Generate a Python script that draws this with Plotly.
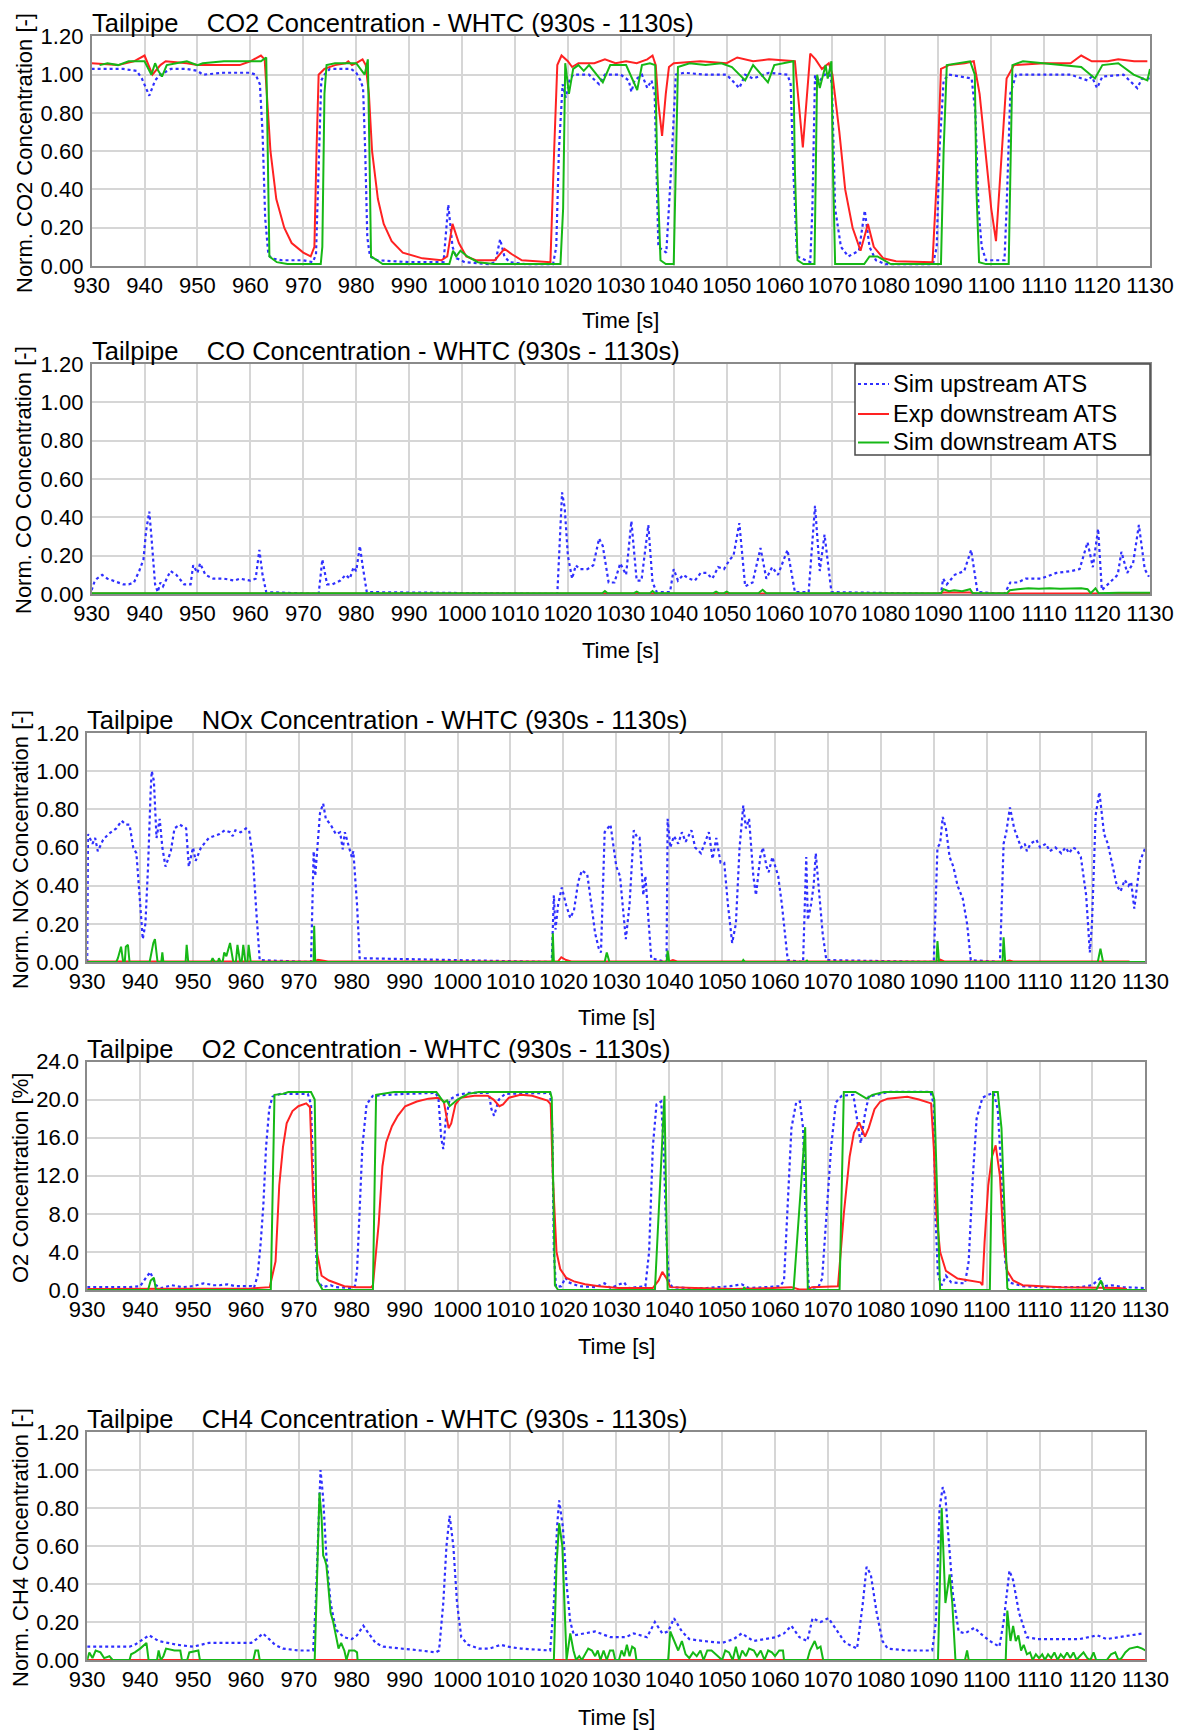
import plotly.graph_objects as go

# ---------------- data (time [s], value) ----------------
time_ticks = list(range(930, 1131, 10))

co2_up = [(930,1.03),(936,1.03),(938.5,1.02),(939.5,0.98),(940.9,0.89),(942,0.97),(943,1.0),(945,1.03),(948,1.03),(950,1.02),(951,1.0),(955,1.01),(960,1.01),(961,1.0),(961.8,0.95),(962.3,0.7),(962.8,0.25),(963.4,0.06),(964,0.04),(966,0.03),(970,0.03),(971.8,0.02),(972.4,0.06),(972.9,0.5),(973.4,0.97),(974,1.0),(975,1.03),(979,1.03),(980,1.01),(980.8,0.97),(981.3,0.93),(981.7,0.6),(982.1,0.15),(982.6,0.05),(984,0.03),(990,0.02),(996.5,0.02),(997.4,0.32),(998.2,0.1),(999,0.04),(1000.5,0.02),(1005,0.01),(1006.3,0.02),(1007.2,0.14),(1008,0.05),(1009,0.02),(1012,0.01),(1017.2,0.01),(1017.8,0.1),(1018.3,0.6),(1019,0.95),(1019.6,0.88),(1020.3,0.97),(1021,1.0),(1024,1.0),(1025.9,0.95),(1027,1.0),(1030,1.0),(1031.5,0.97),(1032,0.91),(1032.6,0.97),(1034,1.0),(1035,0.93),(1035.8,0.97),(1036.4,0.9),(1037.1,0.1),(1038.6,0.07),(1039.5,0.5),(1040.4,1.0),(1042,1.01),(1046,1.0),(1050,1.0),(1052.4,0.93),(1053.5,1.0),(1055,0.98),(1058,1.01),(1061.5,1.0),(1062.1,0.95),(1062.6,0.5),(1063.3,0.05),(1065.8,0.02),(1066.2,0.3),(1066.7,1.0),(1067.1,0.95),(1068.5,1.0),(1069.5,1.0),(1069.9,0.95),(1070.5,0.3),(1071.6,0.1),(1073,0.05),(1075,0.08),(1076.1,0.29),(1077,0.1),(1078.2,0.03),(1080,0.01),(1089,0.01),(1089.7,0.1),(1090.2,0.6),(1091,0.97),(1092,1.0),(1096.3,0.98),(1097,0.8),(1097.6,0.3),(1098.2,0.1),(1099,0.03),(1102.5,0.03),(1102.9,0.3),(1103.6,0.9),(1104.7,1.0),(1110,1.0),(1115,1.0),(1118.2,0.97),(1119,0.99),(1120,0.93),(1121,0.99),(1125,1.0),(1127.6,0.93),(1128.5,0.98),(1130,0.98)]
co2_exp = [(930,1.06),(935,1.05),(938,1.07),(940,1.1),(941.5,1.0),(943,1.05),(944,1.07),(948,1.06),(950,1.05),(958,1.05),(960,1.07),(962,1.1),(962.7,1.08),(963.1,0.9),(963.8,0.6),(964.9,0.35),(966.4,0.2),(967.8,0.12),(970,0.07),(971.4,0.05),(972.1,0.1),(972.5,0.6),(972.9,1.0),(974,1.03),(976,1.05),(978,1.06),(978.5,1.07),(979.2,1.05),(980,1.06),(981.2,1.08),(981.8,1.05),(982.4,0.9),(983,0.6),(984.1,0.35),(985.2,0.22),(986.7,0.13),(988.8,0.07),(992.5,0.04),(996.1,0.03),(997.2,0.05),(998.2,0.22),(999.4,0.12),(1000.8,0.05),(1002.6,0.03),(1006.2,0.03),(1008,0.09),(1009.5,0.06),(1011.3,0.03),(1016.7,0.02),(1017.4,0.6),(1018,1.05),(1018.8,1.1),(1020,1.07),(1020.8,1.04),(1022,1.06),(1025,1.06),(1027,1.08),(1029,1.06),(1031,1.07),(1033,1.06),(1035,1.08),(1036,1.1),(1036.6,1.05),(1037.1,0.85),(1037.8,0.68),(1038.5,0.9),(1039.1,1.04),(1040,1.06),(1045,1.07),(1050,1.06),(1052,1.09),(1055,1.07),(1058,1.08),(1062.9,1.07),(1063.5,0.9),(1064.4,0.62),(1065.2,0.9),(1065.8,1.11),(1066.8,1.08),(1068,1.03),(1069.3,1.06),(1070,1.0),(1071.3,0.7),(1072.4,0.4),(1073.8,0.2),(1075.3,0.08),(1076.7,0.22),(1077.8,0.1),(1079.6,0.04),(1082,0.025),(1088.9,0.02),(1089.8,0.5),(1090.5,1.03),(1092,1.05),(1095,1.06),(1096.7,1.07),(1097.8,0.9),(1098.9,0.6),(1100,0.3),(1100.9,0.13),(1101.8,0.5),(1102.9,0.98),(1104.3,1.05),(1110,1.06),(1115,1.06),(1117,1.1),(1119,1.07),(1122,1.07),(1124,1.08),(1127,1.07),(1129.5,1.07)]
co2_sim = [(931.5,1.05),(933,1.06),(935,1.05),(937,1.07),(940,1.07),(941.3,1.0),(942,1.06),(942.6,1.02),(943.3,0.99),(944.2,1.05),(946,1.06),(948,1.07),(950,1.05),(951,1.06),(955,1.07),(959,1.07),(962,1.07),(963,1.09),(963.3,0.5),(963.6,0.05),(965,0.02),(967,0.01),(973.3,0.01),(973.6,0.1),(974,0.9),(974.4,1.05),(976,1.06),(980,1.06),(981.6,1.0),(982.2,1.08),(982.5,0.6),(982.8,0.05),(985,0.01),(997.6,0.01),(998.3,0.08),(998.9,0.05),(999.7,0.08),(1001,0.05),(1003,0.02),(1006,0.01),(1018.6,0.01),(1019.1,0.3),(1019.5,1.06),(1020.2,0.9),(1021,1.03),(1022,1.05),(1023,1.02),(1024,1.05),(1026.6,0.96),(1028,1.05),(1031,1.05),(1033.1,0.92),(1034,1.05),(1035.5,1.06),(1036.5,1.05),(1036.9,0.5),(1037.5,0.03),(1038.5,0.01),(1040,0.01),(1040.4,0.6),(1040.8,1.04),(1043,1.06),(1046,1.05),(1049,1.06),(1051,1.04),(1053.5,0.97),(1055,1.05),(1057.8,0.96),(1059,1.05),(1062.6,1.07),(1062.9,0.5),(1063.4,0.03),(1064.5,0.01),(1066.6,0.01),(1066.9,0.6),(1067.1,1.0),(1067.6,0.93),(1068.7,1.05),(1069.1,0.98),(1069.8,1.07),(1070.1,0.5),(1070.5,0.01),(1076,0.01),(1077,0.05),(1078.5,0.05),(1081,0.01),(1090.5,0.01),(1091,0.6),(1091.6,1.05),(1094,1.06),(1096,1.07),(1096.9,1.0),(1097.2,0.4),(1097.7,0.02),(1099,0.01),(1103.3,0.01),(1103.7,0.6),(1104,1.05),(1106,1.07),(1110,1.06),(1114,1.05),(1117,1.04),(1119.6,0.98),(1121,1.05),(1124,1.06),(1126.9,1.0),(1129.5,0.97),(1130,1.03)]

co_up = [(930,0.02),(930.5,0.06),(931,0.08),(932,0.1),(933,0.08),(934,0.07),(935,0.06),(936,0.05),(937,0.05),(938,0.06),(939,0.12),(939.8,0.18),(940.3,0.33),(940.9,0.43),(941.3,0.3),(942,0.05),(942.5,0.01),(943,0.06),(943.5,0.04),(944.9,0.12),(946,0.1),(947.5,0.05),(948.7,0.05),(949.2,0.15),(950,0.11),(950.5,0.16),(951.5,0.1),(953,0.08),(955,0.08),(957,0.07),(958,0.08),(960,0.07),(961,0.08),(961.7,0.23),(962.3,0.1),(963,0.01),(972.9,0.0),(973.6,0.18),(974.5,0.05),(975.5,0.05),(977,0.07),(978,0.1),(978.8,0.08),(979.5,0.14),(980,0.12),(980.7,0.25),(981.2,0.15),(982,0.01),(1018,0.0),(1018.9,0.53),(1019.4,0.45),(1020,0.2),(1020.8,0.08),(1021.5,0.15),(1022.2,0.13),(1023.7,0.13),(1024.8,0.15),(1025.9,0.29),(1026.6,0.25),(1027.7,0.06),(1028.8,0.06),(1029.9,0.16),(1031,0.1),(1032,0.38),(1033,0.07),(1033.9,0.07),(1035.2,0.36),(1036,0.06),(1036.8,0.01),(1039.3,0.01),(1040,0.13),(1040.8,0.07),(1041.8,0.1),(1042.9,0.08),(1044,0.07),(1045.1,0.11),(1046.2,0.11),(1047.3,0.08),(1048.4,0.14),(1049.5,0.13),(1050.6,0.18),(1051.3,0.2),(1052.4,0.37),(1053.5,0.04),(1054.9,0.06),(1056.4,0.24),(1057.5,0.08),(1058.6,0.14),(1059.7,0.1),(1061.5,0.23),(1062.9,0.01),(1065.5,0.01),(1066.7,0.46),(1067.6,0.12),(1068.5,0.31),(1069.8,0.01),(1090.5,0.0),(1090.9,0.08),(1091.6,0.05),(1093.1,0.1),(1094.9,0.12),(1096.2,0.23),(1097.4,0.01),(1102.5,0.0),(1103.6,0.06),(1105,0.06),(1106.5,0.08),(1109.4,0.08),(1112.3,0.11),(1115.2,0.12),(1116.7,0.13),(1118.2,0.27),(1119.2,0.14),(1120.2,0.34),(1120.9,0.02),(1122.5,0.06),(1123.9,0.1),(1124.6,0.22),(1125.7,0.11),(1126.8,0.16),(1127.9,0.36),(1129,0.13),(1129.8,0.09)]
co_exp = [(930,0.003),(1090,0.003),(1091,0.008),(1096,0.008),(1097,0.003),(1103,0.003),(1104,0.006),(1119,0.006),(1120,0.003),(1130,0.003)]
co_sim = [(930,0.004),(1026.5,0.004),(1027,0.015),(1027.5,0.004),(1032.5,0.004),(1033,0.012),(1033.5,0.004),(1035.5,0.004),(1036,0.015),(1036.5,0.004),(1047.5,0.004),(1048,0.012),(1048.5,0.004),(1049.5,0.004),(1050,0.012),(1050.5,0.004),(1056,0.004),(1056.8,0.022),(1057.5,0.004),(1090.5,0.004),(1091,0.025),(1092,0.015),(1093,0.02),(1094.5,0.015),(1096,0.025),(1096.5,0.004),(1103,0.004),(1103.5,0.02),(1105,0.025),(1107,0.03),(1109,0.028),(1111,0.03),(1113,0.027),(1115,0.028),(1117,0.03),(1118.2,0.025),(1118.8,0.004),(1119.7,0.03),(1120.3,0.004),(1124,0.006),(1130,0.006)]

nox_up = [(930,0.0),(930.15,0.67),(931,0.62),(931.5,0.65),(932,0.58),(933,0.64),(934,0.67),(935.5,0.7),(936.5,0.74),(937.3,0.72),(938,0.72),(938.7,0.6),(939.3,0.57),(940,0.3),(940.5,0.12),(941,0.2),(941.5,0.5),(942,0.9),(942.2,1.0),(942.6,0.95),(943.1,0.65),(943.7,0.75),(944.2,0.6),(944.8,0.5),(945.8,0.58),(946.5,0.7),(947.5,0.72),(948.7,0.7),(949.2,0.5),(950,0.6),(950.5,0.53),(951.5,0.6),(953,0.65),(954,0.66),(955,0.67),(956,0.69),(957,0.68),(957.5,0.66),(958,0.69),(959,0.68),(960,0.7),(960.6,0.69),(961.3,0.55),(962,0.25),(962.6,0.01),(972.3,0.0),(972.8,0.58),(973.1,0.45),(973.5,0.6),(974,0.78),(974.6,0.83),(975.1,0.75),(976,0.72),(977,0.67),(977.8,0.68),(978.3,0.59),(978.7,0.68),(979.5,0.6),(980,0.55),(980.3,0.58),(981,0.3),(981.5,0.02),(1017.8,0.0),(1018.2,0.35),(1018.5,0.17),(1019,0.3),(1019.7,0.39),(1020.5,0.3),(1021.3,0.23),(1022,0.27),(1022.8,0.42),(1023.5,0.48),(1024.5,0.46),(1025.3,0.3),(1026,0.15),(1026.7,0.07),(1027.1,0.05),(1027.8,0.68),(1028.9,0.72),(1030,0.5),(1030.7,0.45),(1031.8,0.12),(1032.5,0.3),(1033.3,0.69),(1034,0.65),(1034.4,0.65),(1035.1,0.35),(1035.5,0.45),(1036.6,0.02),(1039.5,0.0),(1039.7,0.75),(1040.2,0.6),(1040.9,0.66),(1041.7,0.62),(1042.4,0.68),(1043.1,0.63),(1044.2,0.69),(1044.9,0.6),(1046,0.57),(1046.8,0.63),(1047.5,0.68),(1048.2,0.54),(1048.9,0.65),(1049.7,0.52),(1050.4,0.52),(1051.1,0.3),(1051.9,0.1),(1052.6,0.2),(1053.3,0.6),(1054,0.82),(1054.5,0.7),(1055.1,0.75),(1055.9,0.45),(1056.4,0.35),(1057.2,0.55),(1057.7,0.6),(1058.4,0.5),(1058.8,0.47),(1059.5,0.55),(1060.6,0.45),(1061.3,0.3),(1062.4,0.01),(1065.3,0.0),(1065.9,0.55),(1066.2,0.22),(1066.8,0.3),(1067.3,0.4),(1067.7,0.57),(1068.2,0.4),(1069,0.15),(1069.7,0.01),(1090,0.0),(1090.7,0.6),(1091.2,0.62),(1091.7,0.76),(1092.3,0.7),(1093,0.55),(1093.7,0.5),(1094.5,0.4),(1095.5,0.33),(1096.3,0.2),(1097,0.01),(1102.5,0.0),(1103.2,0.62),(1103.7,0.68),(1104.4,0.81),(1105.2,0.7),(1105.9,0.65),(1106.5,0.6),(1107.2,0.62),(1107.6,0.58),(1108.3,0.62),(1109.4,0.64),(1110.1,0.6),(1111.2,0.62),(1111.9,0.58),(1113,0.6),(1114.1,0.57),(1114.9,0.6),(1115.6,0.57),(1116.3,0.6),(1117,0.59),(1117.8,0.55),(1118.8,0.35),(1119.5,0.05),(1119.9,0.2),(1120.6,0.77),(1121.3,0.89),(1122.2,0.67),(1122.9,0.62),(1123.8,0.51),(1124.6,0.4),(1125.3,0.37),(1126.1,0.43),(1126.8,0.4),(1127.3,0.42),(1127.9,0.28),(1129,0.53),(1130,0.6)]
nox_exp = [(930,0.003),(973,0.003),(973.6,0.012),(974.5,0.006),(975.5,0.003),(1019,0.003),(1019.6,0.025),(1020.5,0.01),(1021.5,0.003),(1040,0.003),(1040.7,0.01),(1041.5,0.003),(1090.5,0.003),(1091.2,0.012),(1092,0.003),(1103.5,0.003),(1104.3,0.008),(1105,0.003),(1127,0.003)]
nox_sim = [(930,0.0),(935.5,0.0),(935.8,0.02),(936.4,0.08),(936.8,0.0),(937.1,0.0),(937.3,0.08),(937.7,0.09),(938,0.0),(941.8,0.0),(942.5,0.1),(942.8,0.12),(943.3,0.0),(944,0.0),(944.2,0.05),(944.4,0.0),(948.6,0.0),(948.8,0.09),(949.1,0.0),(953.4,0.0),(953.7,0.02),(954.1,0.0),(954.7,0.0),(954.9,0.02),(955.2,0.0),(955.6,0.0),(955.9,0.05),(956.3,0.03),(957,0.1),(957.6,0.0),(958.1,0.0),(958.4,0.09),(958.9,0.0),(959.2,0.0),(959.5,0.09),(959.9,0.0),(960.3,0.0),(960.5,0.09),(960.9,0.0),(972.8,0.0),(972.9,0.19),(973.1,0.0),(1017.9,0.0),(1018.0,0.15),(1018.2,0.0),(1027.8,0.0),(1028.2,0.05),(1028.7,0.0),(1039.5,0.0),(1039.7,0.06),(1040,0.0),(1053.8,0.0),(1054,0.01),(1054.3,0.0),(1065.9,0.0),(1066,0.01),(1066.2,0.0),(1090.5,0.0),(1090.7,0.11),(1091,0.0),(1103,0.0),(1103.2,0.13),(1103.5,0.0),(1121,0.0),(1121.5,0.07),(1122,0.0),(1130,0.0)]

o2_up = [(930,0.3),(938,0.3),(940,0.4),(941.9,1.9),(943,0.5),(944,0.2),(946,0.5),(948,0.3),(950,0.4),(952,0.7),(954,0.5),(955,0.5),(956.5,0.6),(958,0.4),(961,0.4),(961.5,0.2),(962.2,1.5),(962.8,5),(963.3,9),(963.8,15),(964.4,19),(965,20.3),(966.5,20.6),(971.7,20.6),(972.3,19.5),(972.8,10),(973.5,1.0),(974.5,0.3),(976,0.5),(977,0.3),(980,0.2),(980.6,0.4),(981,2),(981.5,8),(982,15),(982.8,19.5),(984,20.4),(990,20.6),(995.9,20.7),(996.4,20),(996.9,16),(997.3,14.8),(997.8,18),(998.5,20),(1000,20.5),(1002,20.7),(1005.9,20.7),(1006.4,19),(1006.9,18.3),(1007.8,20),(1009,20.6),(1017.5,20.7),(1017.9,17),(1018.2,4),(1018.6,0.3),(1019.6,0.4),(1020.4,1.3),(1021,0.8),(1023,0.4),(1026,0.3),(1027.8,0.7),(1028.9,0.2),(1031.5,0.8),(1032.2,0.2),(1034.7,0.3),(1035.5,0.4),(1036.2,4),(1036.9,15),(1037.6,19.5),(1038.5,19.8),(1039,14),(1039.5,5),(1040,0.8),(1040.6,0.3),(1043.5,0.2),(1047.1,0.2),(1051.5,0.4),(1053.7,0.6),(1055.1,0.2),(1059.5,0.3),(1061,0.4),(1061.7,1.0),(1062.4,9),(1063.1,17),(1064,19.7),(1064.7,19.8),(1065.3,17),(1065.9,5),(1066.4,0.2),(1068.2,0.3),(1068.9,1.2),(1069.7,8),(1070.6,15),(1071.5,19.7),(1072.6,20.4),(1074.8,20.5),(1075.5,18),(1076.2,15.4),(1077,18.5),(1077.7,20.3),(1079.2,20.5),(1081.3,20.8),(1089.4,20.8),(1090,19.5),(1090.3,8),(1090.8,1.5),(1091.5,0.5),(1092.3,1.5),(1093.3,0.8),(1095.9,0.7),(1096.6,3),(1097.4,12),(1098.1,18),(1099.2,20.2),(1100.3,20.5),(1101.3,20.7),(1102.1,19),(1102.8,12),(1103.5,3),(1104.2,0.8),(1106.8,0.4),(1110.5,0.3),(1117.8,0.3),(1119.9,0.5),(1121.4,1.2),(1122.1,0.4),(1123.6,0.5),(1125.8,0.3),(1130,0.2)]
o2_exp = [(930,0.1),(961,0.15),(964.5,0.3),(965.6,3),(966.3,11),(967,15),(967.7,17.5),(968.8,18.8),(969.9,19.3),(971.4,19.6),(972.1,19.2),(972.7,10),(973.4,4),(974.3,1.5),(975.7,1.0),(977.1,0.7),(978.6,0.4),(980.8,0.3),(983.7,0.3),(984,0.5),(985.1,7),(985.8,13),(986.5,15.5),(987.6,17.2),(988.7,18.3),(990.1,19.3),(992.3,19.8),(994.5,20.1),(996.3,20.2),(997.4,19.8),(998.3,17),(998.8,17.5),(999.6,19.5),(1000.6,20.2),(1003.2,20.4),(1005.7,20.4),(1006.8,20),(1007.9,19.3),(1008.6,19.5),(1009.7,20.2),(1011.9,20.5),(1014.1,20.4),(1017,19.9),(1017.6,19.5),(1018,12),(1018.7,4),(1019.4,2.2),(1020.5,1.3),(1022,0.9),(1024.1,0.6),(1026.7,0.4),(1030.4,0.2),(1036.9,0.2),(1038,1.0),(1038.7,1.9),(1039.5,1.2),(1040.2,0.3),(1044.9,0.2),(1052.2,0.1),(1059.5,0.2),(1063.1,0.3),(1064.6,0.05),(1066.1,0.05),(1067,0.3),(1071.9,0.4),(1073,8),(1074.1,14),(1074.9,16.5),(1075.9,17.6),(1077,16.1),(1077.7,17),(1078.8,19),(1079.9,19.8),(1081.3,20.1),(1085,20.3),(1087.2,20),(1089.5,19.6),(1090,15),(1090.5,8),(1091.2,4),(1092.3,2),(1094.5,1.2),(1098.8,0.8),(1099.2,0.5),(1099.6,5),(1100.3,11),(1101,14),(1101.7,15.2),(1102.5,12),(1103.2,5),(1103.9,2),(1105,1.0),(1106.8,0.5),(1114.1,0.3),(1125,0.2),(1126.5,0.1)]
o2_sim = [(930,0.0),(941.5,0.0),(942,1.0),(942.6,1.3),(943,0.0),(964.7,0.0),(965.4,20.5),(967,20.6),(968,20.8),(972.3,20.8),(973,20.0),(973.5,1.0),(974.5,0.0),(984,0.0),(984.6,20.5),(986,20.6),(988,20.8),(996,20.8),(997.4,19.7),(998,19.9),(998.5,19.3),(1000,20.0),(1002,20.6),(1004,20.8),(1017.5,20.8),(1017.8,20.2),(1018.4,0.5),(1019,0.0),(1037.3,0.0),(1039.1,20.4),(1039.7,0.0),(1054,0.0),(1054.2,0.3),(1054.4,0.0),(1063.5,0.0),(1065.7,17.1),(1066.2,0.0),(1072.2,0.0),(1073,20.8),(1075.2,20.8),(1077.3,20.1),(1078.4,20.5),(1080.6,20.8),(1089.7,20.8),(1090.1,20.0),(1091.2,0.0),(1100.6,0.0),(1101.2,20.8),(1102.1,20.8),(1102.8,17),(1103.9,0.2),(1104.2,0.0),(1120.7,0.0),(1121.6,1.0),(1122.2,0.0),(1130,0.0)]

ch4_up = [(930,0.07),(938,0.07),(939,0.08),(940.5,0.11),(941.7,0.13),(943.5,0.1),(945,0.09),(947,0.08),(950,0.07),(951.5,0.08),(953,0.09),(958,0.09),(961,0.09),(962,0.11),(963.2,0.14),(964,0.12),(965.5,0.08),(967,0.06),(970,0.05),(972.7,0.05),(973.2,0.3),(973.7,0.7),(974.1,1.0),(974.6,0.85),(975.2,0.55),(976,0.3),(977,0.16),(978.5,0.12),(980,0.11),(981,0.13),(982.2,0.18),(983.2,0.14),(984.5,0.09),(986,0.07),(990,0.06),(993,0.05),(995.9,0.04),(996.5,0.05),(997.3,0.3),(997.9,0.6),(998.5,0.76),(999.2,0.6),(999.9,0.3),(1000.7,0.12),(1002,0.08),(1004,0.06),(1006,0.06),(1008.2,0.08),(1009.5,0.07),(1012,0.06),(1017.5,0.05),(1018.2,0.3),(1018.8,0.7),(1019.2,0.84),(1019.9,0.7),(1020.6,0.4),(1021.3,0.2),(1022,0.13),(1024,0.14),(1026,0.15),(1028.9,0.12),(1031.8,0.12),(1033.3,0.14),(1035.8,0.12),(1037.3,0.2),(1038.7,0.14),(1039.8,0.15),(1040.9,0.22),(1042.4,0.15),(1043.8,0.11),(1046.4,0.1),(1050,0.09),(1052.2,0.11),(1053.7,0.14),(1055.9,0.1),(1058,0.11),(1060.2,0.12),(1061.7,0.14),(1063.1,0.18),(1064.6,0.12),(1066.1,0.1),(1067.1,0.22),(1068.6,0.2),(1070.1,0.22),(1071.5,0.16),(1073.3,0.09),(1075.5,0.06),(1076.6,0.3),(1077.3,0.49),(1078.1,0.45),(1079.2,0.25),(1080.3,0.1),(1081.3,0.06),(1085,0.05),(1089.7,0.05),(1090.4,0.2),(1091.1,0.8),(1091.7,0.91),(1092.2,0.86),(1092.9,0.6),(1093.6,0.35),(1094.7,0.15),(1095.9,0.14),(1097.7,0.17),(1098.8,0.14),(1100.6,0.1),(1102.4,0.07),(1103.2,0.2),(1104.3,0.47),(1105,0.42),(1106.1,0.25),(1107.6,0.12),(1109.7,0.11),(1114,0.11),(1117.6,0.11),(1120.9,0.13),(1122.7,0.11),(1124.9,0.12),(1127.8,0.13),(1129.6,0.14)]
ch4_exp = [(930,0.0),(1130,0.0)]
ch4_sim = [(930,0.0),(930.4,0.04),(931,0.01),(931.6,0.05),(932.5,0.04),(933.2,0.01),(934.2,0.02),(934.8,0.0),(938,0.0),(938.3,0.03),(939,0.04),(940,0.06),(941.2,0.09),(941.6,0.0),(943.2,0.0),(943.5,0.05),(943.9,0.0),(944.4,0.02),(944.9,0.06),(946.5,0.05),(947.6,0.05),(947.9,0.0),(948.9,0.0),(949.3,0.04),(951,0.05),(951.3,0.0),(961.4,0.0),(961.8,0.05),(962.3,0.05),(962.6,0.0),(973,0.0),(973.4,0.4),(973.9,0.88),(974.3,0.75),(974.6,0.55),(974.9,0.53),(975.2,0.5),(975.6,0.38),(976,0.25),(976.5,0.2),(977,0.12),(977.5,0.06),(978,0.09),(978.6,0.05),(979,0.0),(979.5,0.05),(980.5,0.05),(981,0.04),(981.1,0.0),(1018.2,0.0),(1018.7,0.5),(1019.2,0.72),(1019.8,0.6),(1020.3,0.2),(1020.6,0.0),(1021.3,0.14),(1021.9,0.05),(1022.4,0.0),(1023,0.02),(1023.5,0.0),(1024.1,0.03),(1024.7,0.06),(1025.4,0.05),(1026,0.02),(1026.5,0.05),(1027,0.0),(1027.6,0.05),(1028.2,0.0),(1028.8,0.05),(1029.4,0.05),(1029.8,0.0),(1030.5,0.0),(1031,0.05),(1031.5,0.02),(1032,0.08),(1032.5,0.02),(1033,0.07),(1033.5,0.06),(1033.8,0.0),(1039.8,0.0),(1040.2,0.15),(1040.9,0.1),(1041.7,0.05),(1042.4,0.1),(1043.1,0.03),(1043.8,0.01),(1044.5,0.04),(1045.2,0.02),(1045.9,0.05),(1046.5,0.0),(1047.2,0.05),(1048,0.05),(1048.8,0.03),(1049.5,0.01),(1050,0.0),(1050.6,0.05),(1051.3,0.04),(1052,0.0),(1052.6,0.07),(1053.2,0.0),(1053.8,0.05),(1054.5,0.02),(1055.1,0.06),(1056,0.05),(1056.6,0.02),(1057.3,0.05),(1058,0.0),(1058.7,0.05),(1059.4,0.04),(1060,0.02),(1060.8,0.05),(1061.5,0.05),(1061.7,0.0),(1066.1,0.0),(1066.6,0.05),(1067.5,0.1),(1068,0.06),(1068.6,0.07),(1069.1,0.0),(1090.8,0.0),(1091.5,0.8),(1092.2,0.3),(1093,0.45),(1093.5,0.3),(1094.1,0.0),(1095.9,0.0),(1096.3,0.05),(1096.6,0.0),(1103.6,0.0),(1103.9,0.26),(1104.5,0.1),(1105,0.18),(1105.5,0.1),(1106,0.13),(1106.5,0.05),(1107,0.08),(1107.6,0.03),(1108.2,0.04),(1108.7,0.0),(1109.3,0.03),(1109.9,0.01),(1110.5,0.03),(1111,0.0),(1111.6,0.03),(1112.2,0.01),(1112.8,0.04),(1113.4,0.0),(1114,0.03),(1114.6,0.01),(1115.2,0.04),(1115.8,0.01),(1116.4,0.04),(1117,0.0),(1117.6,0.02),(1118.3,0.04),(1119,0.01),(1119.6,0.0),(1120.2,0.04),(1120.7,0.0),(1122.7,0.0),(1123.5,0.03),(1124.3,0.04),(1124.9,0.0),(1125.5,0.01),(1126.2,0.04),(1127,0.06),(1128.5,0.07),(1129.4,0.06),(1130,0.05)]

series_names = ["Sim upstream ATS", "Exp downstream ATS", "Sim downstream ATS"]
panel_titles = ["CO2 Concentration - WHTC (930s - 1130s)",
                "CO Concentration - WHTC (930s - 1130s)",
                "NOx Concentration - WHTC (930s - 1130s)",
                "O2 Concentration - WHTC (930s - 1130s)",
                "CH4 Concentration - WHTC (930s - 1130s)"]
y_titles = ["Norm. CO2 Concentration [-]", "Norm. CO Concentration [-]",
            "Norm. NOx Concentration [-]", "O2 Concentration [%]",
            "Norm. CH4 Concentration [-]"]
y_ticks_norm = [0.0, 0.2, 0.4, 0.6, 0.8, 1.0, 1.2]
y_ticks_o2 = [0.0, 4.0, 8.0, 12.0, 16.0, 20.0, 24.0]
panel_data = [(co2_up, co2_exp, co2_sim), (co_up, co_exp, co_sim),
              (nox_up, nox_exp, nox_sim), (o2_up, o2_exp, o2_sim),
              (ch4_up, ch4_exp, ch4_sim)]

# ---------------- layout geometry (page pixels) ----------------
PAGE_W, PAGE_H = 1184, 1731
OFF = 8  # default page margin around the figure div
W, H = PAGE_W - OFF, PAGE_H - OFF
geom = [  # left, right, top, bottom
    (91.6, 1150.0, 36.4, 266.0),
    (91.6, 1150.0, 364.0, 594.0),
    (87.2, 1145.4, 733.0, 962.0),
    (87.2, 1145.4, 1061.5, 1290.0),
    (87.2, 1145.4, 1432.0, 1660.0),
]
time_label_y = [321, 650, 1017, 1346, 1717]
ytitle_pos = [(24, 153), (24, 480), (20, 850), (20, 1178), (20, 1548)]
legend_box = (855, 1150, 364, 455)
legend_rows = [384, 414, 442.5]
legend_line_x = (858, 889)
legend_text_x = 891

colors = ["#2f2fff", "#ff2222", "#16b816"]
dashes = ["dot", "solid", "solid"]
FONT = "Arial, 'Liberation Sans', sans-serif"

def px_x(v):
    return (v - OFF) / W

def px_y(v):
    return 1 - (v - OFF) / H

fig = go.Figure()
layout = dict(width=W, height=H, margin=dict(l=0, r=0, t=0, b=0, autoexpand=False),
              template="none",
              paper_bgcolor="white", plot_bgcolor="white",
              font=dict(family=FONT, size=22, color="black"),
              showlegend=False, annotations=[], shapes=[])

for i, (l, r, t, b) in enumerate(geom):
    sfx = "" if i == 0 else str(i + 1)
    xref, yref = "x" + sfx, "y" + sfx
    for k in range(3):
        pts = panel_data[i][k]
        fig.add_trace(go.Scatter(
            x=[p[0] for p in pts], y=[p[1] for p in pts], mode="lines",
            name=series_names[k], xaxis=xref, yaxis=yref,
            line=dict(color=colors[k], width=2 if k else 2.2, dash=dashes[k]),
            hoverinfo="skip"))
    is_o2 = (i == 3)
    yt = y_ticks_o2 if is_o2 else y_ticks_norm
    layout["xaxis" + sfx] = dict(
        domain=[px_x(l), px_x(r)], anchor=yref, range=[930, 1130], automargin=False,
        tickvals=time_ticks, ticktext=[str(v) for v in time_ticks], tickangle=0,
        showgrid=True, gridcolor="#d6d6d6", gridwidth=1.5, zeroline=False,
        showline=True, linecolor="#8a8a8a", linewidth=1.5, mirror=True,
        ticks="", tickfont=dict(size=22, color="black"), ticklabelstandoff=-1)
    layout["yaxis" + sfx] = dict(
        domain=[px_y(b), px_y(t)], anchor=xref, range=[yt[0], yt[-1]], automargin=False,
        tickvals=yt, ticktext=[("%.1f" if is_o2 else "%.2f") % v for v in yt],
        showgrid=True, gridcolor="#d6d6d6", gridwidth=1.5, zeroline=False,
        showline=True, linecolor="#8a8a8a", linewidth=1.5, mirror=True,
        ticks="", tickfont=dict(size=22, color="black"), ticklabelstandoff=2)
    if i < 3:
        layout["shapes"].append(dict(type="line", xref=xref + " domain", yref=yref,
                                     x0=0, x1=1, y0=1.0, y1=1.0,
                                     line=dict(color="#a0a0a0", width=1.5), layer="below"))
    layout["annotations"].append(dict(
        text="Tailpipe&nbsp;&nbsp;&nbsp; " + panel_titles[i],
        xref="paper", yref="paper", x=px_x(l - 2), y=px_y(t - 13),
        xanchor="left", yanchor="middle", showarrow=False, font=dict(size=25.5)))
    layout["annotations"].append(dict(
        text="Time [s]", xref="paper", yref="paper",
        x=px_x((l + r) / 2), y=px_y(time_label_y[i]),
        xanchor="center", yanchor="middle", showarrow=False, font=dict(size=22)))
    layout["annotations"].append(dict(
        text=y_titles[i], xref="paper", yref="paper",
        x=px_x(ytitle_pos[i][0]), y=px_y(ytitle_pos[i][1]), textangle=-90,
        xanchor="center", yanchor="middle", showarrow=False, font=dict(size=22)))

# legend (inside the CO panel), drawn as a framed box with sample lines and labels
bx0, bx1, by0, by1 = legend_box
layout["shapes"].append(dict(type="rect", xref="paper", yref="paper",
                             x0=px_x(bx0), x1=px_x(bx1), y0=px_y(by1), y1=px_y(by0),
                             fillcolor="white", line=dict(color="#4a4a4a", width=1.5),
                             layer="above"))
for k in range(3):
    layout["shapes"].append(dict(type="line", xref="paper", yref="paper",
                                 x0=px_x(legend_line_x[0]), x1=px_x(legend_line_x[1]),
                                 y0=px_y(legend_rows[k]), y1=px_y(legend_rows[k]),
                                 line=dict(color=colors[k], width=2.2 if k == 0 else 2,
                                           dash=dashes[k]), layer="above"))
    layout["annotations"].append(dict(
        text=series_names[k], xref="paper", yref="paper",
        x=px_x(legend_text_x), y=px_y(legend_rows[k]), xanchor="left", yanchor="middle",
        showarrow=False, font=dict(size=23.5)))

fig.update_layout(**layout)
fig.write_html("out.html")
